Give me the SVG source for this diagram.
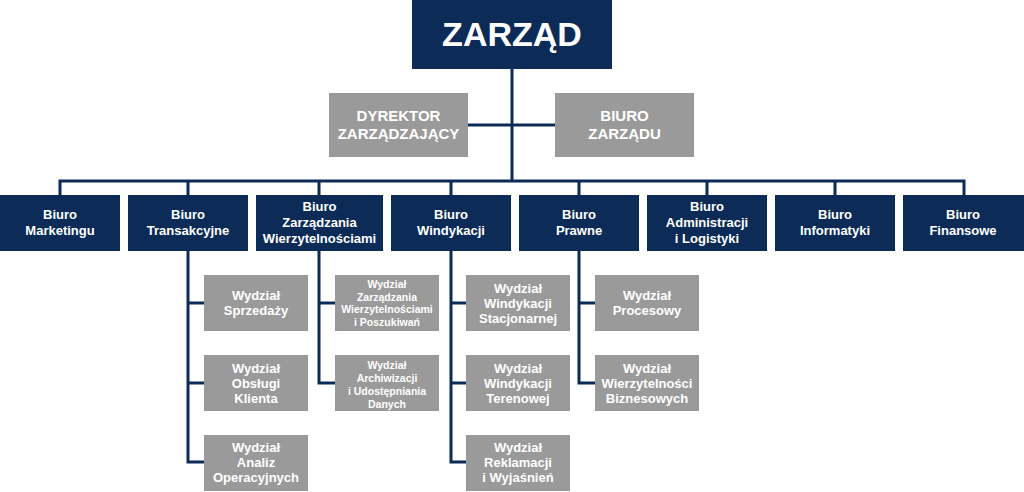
<svg xmlns="http://www.w3.org/2000/svg" width="1024" height="492" viewBox="0 0 1024 492">
<style>
.n{fill:#0c2b57}.g{fill:#9a9a9a}
text{font-family:"Liberation Sans",Arial,sans-serif;font-weight:bold;fill:#fff;text-anchor:middle}
.t{font-size:13px}.s{font-size:13px}.xs{font-size:10.5px}.m{font-size:15px}
.c{stroke:#0c2b57;stroke-width:3;fill:none}
</style>
<rect width="1024" height="492" fill="#fff"/>
<g id="connectors" class="c">
<path d="M512 69V181M468 125H555M60 195V181H964V195M188 181V195M319 181V195M451 181V195M579 181V195M707 181V195M835 181V195"/>
<path d="M188 251V462H204M188 303H204M188 383H204"/>
<path d="M319 251V383H335M319 303H335"/>
<path d="M451 251V462H466M451 303H466M451 383H466"/>
<path d="M579 251V383H595M579 303H595"/>
</g>
<g id="zarzad"><rect class="n" x="412" y="0" width="200" height="69"/><text x="512" y="46" style="font-size:34px">ZARZĄD</text></g>
<g id="dyrektor"><rect class="g" x="329" y="93" width="139" height="64"/><text class="m" x="398.5" y="121">DYREKTOR</text><text class="m" x="398.5" y="139">ZARZĄDZAJĄCY</text></g>
<g id="biuro-zarzadu"><rect class="g" x="555" y="93" width="139" height="64"/><text class="m" x="624.5" y="121">BIURO</text><text class="m" x="624.5" y="139">ZARZĄDU</text></g>
<g id="marketing"><rect class="n" x="0" y="195" width="120" height="56"/><text class="t" x="60" y="219">Biuro</text><text class="t" x="60" y="235">Marketingu</text></g>
<g id="transakcyjne"><rect class="n" x="128" y="195" width="120" height="56"/><text class="t" x="188" y="219">Biuro</text><text class="t" x="188" y="235">Transakcyjne</text></g>
<g id="zarzadzania"><rect class="n" x="256" y="195" width="127" height="56"/><text class="t" x="319.5" y="211">Biuro</text><text class="t" x="319.5" y="227">Zarządzania</text><text class="t" x="319.5" y="243">Wierzytelnościami</text></g>
<g id="windykacji"><rect class="n" x="391" y="195" width="120" height="56"/><text class="t" x="451" y="219">Biuro</text><text class="t" x="451" y="235">Windykacji</text></g>
<g id="prawne"><rect class="n" x="519" y="195" width="120" height="56"/><text class="t" x="579" y="219">Biuro</text><text class="t" x="579" y="235">Prawne</text></g>
<g id="administracji"><rect class="n" x="647" y="195" width="120" height="56"/><text class="t" x="707" y="211">Biuro</text><text class="t" x="707" y="227">Administracji</text><text class="t" x="707" y="243">i Logistyki</text></g>
<g id="informatyki"><rect class="n" x="775" y="195" width="120" height="56"/><text class="t" x="835" y="219">Biuro</text><text class="t" x="835" y="235">Informatyki</text></g>
<g id="finansowe"><rect class="n" x="903" y="195" width="121" height="56"/><text class="t" x="963" y="219">Biuro</text><text class="t" x="963" y="235">Finansowe</text></g>
<g id="sprzedazy"><rect class="g" x="204" y="275" width="104" height="56"/><text class="s" x="256" y="300">Wydział</text><text class="s" x="256" y="315">Sprzedaży</text></g>
<g id="obslugi"><rect class="g" x="204" y="355" width="104" height="56"/><text class="s" x="256" y="373">Wydział</text><text class="s" x="256" y="388">Obsługi</text><text class="s" x="256" y="403">Klienta</text></g>
<g id="analiz"><rect class="g" x="204" y="435" width="104" height="56"/><text class="s" x="256" y="452">Wydział</text><text class="s" x="256" y="467">Analiz</text><text class="s" x="256" y="482">Operacyjnych</text></g>
<g id="zarz-wierz"><rect class="g" x="335" y="275" width="104" height="56"/><text class="xs" x="387" y="288">Wydział</text><text class="xs" x="387" y="301">Zarządzania</text><text class="xs" x="387" y="313">Wierzytelnościami</text><text class="xs" x="387" y="326">i Poszukiwań</text></g>
<g id="archiwizacji"><rect class="g" x="335" y="355" width="104" height="56"/><text class="xs" x="387" y="369">Wydział</text><text class="xs" x="387" y="382">Archiwizacji</text><text class="xs" x="387" y="395">i Udostępniania</text><text class="xs" x="387" y="408">Danych</text></g>
<g id="stacjonarnej"><rect class="g" x="466" y="275" width="104" height="56"/><text class="s" x="518" y="293">Wydział</text><text class="s" x="518" y="308">Windykacji</text><text class="s" x="518" y="323">Stacjonarnej</text></g>
<g id="terenowej"><rect class="g" x="466" y="355" width="104" height="56"/><text class="s" x="518" y="373">Wydział</text><text class="s" x="518" y="388">Windykacji</text><text class="s" x="518" y="403">Terenowej</text></g>
<g id="reklamacji"><rect class="g" x="466" y="435" width="104" height="56"/><text class="s" x="518" y="452">Wydział</text><text class="s" x="518" y="467">Reklamacji</text><text class="s" x="518" y="482">i Wyjaśnień</text></g>
<g id="procesowy"><rect class="g" x="595" y="275" width="104" height="56"/><text class="s" x="647" y="300">Wydział</text><text class="s" x="647" y="315">Procesowy</text></g>
<g id="biznesowych"><rect class="g" x="595" y="355" width="104" height="56"/><text class="s" x="647" y="373">Wydział</text><text class="s" x="647" y="388">Wierzytelności</text><text class="s" x="647" y="403">Biznesowych</text></g>
</svg>
